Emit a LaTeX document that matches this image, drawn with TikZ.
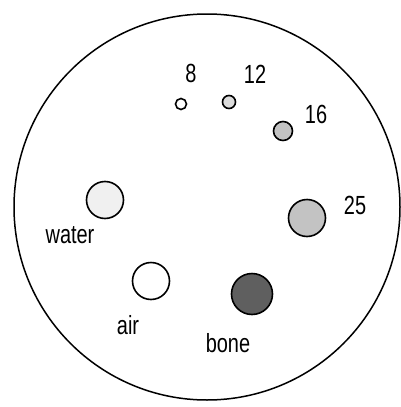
\documentclass[tikz,border=0pt]{standalone}
\usepackage{fontspec}
\setmainfont{Liberation Sans}
\usepackage{xcolor}
\definecolor{phgray}{RGB}{195, 195, 195}
\definecolor{phlight}{RGB}{220, 220, 220}
\definecolor{phpale}{RGB}{240, 240, 240}
\definecolor{phbone}{RGB}{95, 95, 95}
\usepackage{tikz}

\newcommand{\tall}[1]{\scalebox{0.95}[1.25]{#1}}

\tikzset{
  insert/.style={circle, draw=black, line width=1.6pt, inner sep=0pt},
  lbl/.style={inner sep=0pt, font=\fontsize{21}{21}\selectfont}
}

\begin{document}
\begin{tikzpicture}[x=1pt, y=-1pt]
    \useasboundingbox (0,0) rectangle (401,407);
    % phantom outline
    \node[circle, draw=black, line width=1.5pt, minimum size=386pt, inner sep=0pt] (phantom) at (207,207) {};

    % inserts
    \node[insert, fill=white, minimum size=11pt] (ins8) at (181,104) {};
    \node[insert, fill=phlight, minimum size=13pt] (ins12) at (229,102) {};
    \node[insert, fill=phgray, minimum size=19pt] (ins16) at (283,131) {};
    \node[insert, fill=phgray, minimum size=37pt] (ins25) at (307,218) {};
    \node[insert, fill=phpale, minimum size=37pt] (water) at (105,200) {};
    \node[insert, fill=white, minimum size=37pt] (air) at (151,281) {};
    \node[insert, fill=phbone, minimum size=41pt] (bone) at (252,294) {};

    % labels
    \node[lbl] (lbl8) at (191,73) {\tall{8}};
    \node[lbl] (lbl12) at (255,74) {\tall{12}};
    \node[lbl] (lbl16) at (316,114) {\tall{16}};
    \node[lbl] (lbl25) at (355,205) {\tall{25}};
    \node[lbl] (lblwater) at (70,235) {\tall{water}};
    \node[lbl] (lblair) at (128,325) {\tall{air}};
    \node[lbl] (lblbone) at (228,343) {\tall{bone}};
  \end{tikzpicture}
\end{document}
